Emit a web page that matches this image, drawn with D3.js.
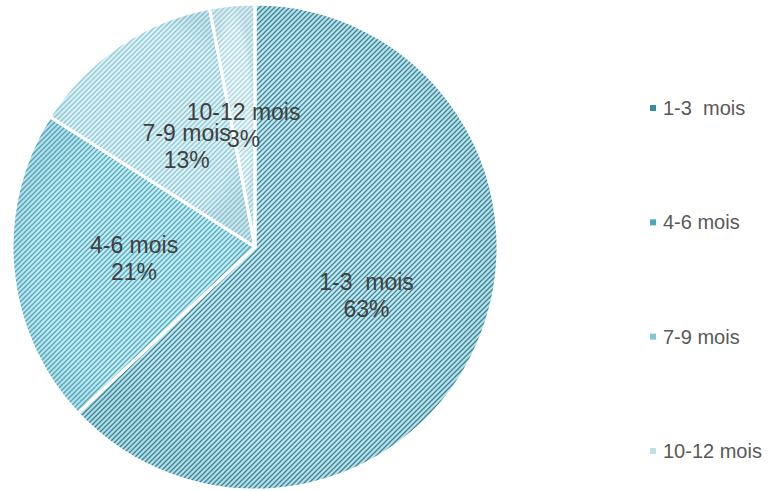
<!DOCTYPE html>
<html>
<head>
<meta charset="utf-8">
<script src="https://cdn.jsdelivr.net/npm/d3@7"></script>
<style>
  body { margin: 0; background: #fff; }
  svg { display: block; font-family: "Liberation Sans", Arial, sans-serif; }
</style>
</head>
<body>
<svg id="chart"></svg>
<script>
var width = 771,
    height = 491;

// data
var categories = ["1-3  mois", "4-6 mois", "7-9 mois", "10-12 mois"];
var values = [63, 21, 13, 3];

// pattern colours (background, stripe) and legend swatches
var bgColors = ["#c9e6ee", "#cbe9f1", "#e0f1f6", "#ebf6f9"];
var stripeColors = ["#358b9d", "#4aaec3", "#8ccad9", "#acd7e2"];
var swatch = ["#3a8c9d", "#4aa9bd", "#82c6d6", "#bfe0e9"];

var cx = 255, cy = 247, r = 243;

var svg = d3.select("#chart").attr("width", width).attr("height", height);
var defs = svg.append("defs");

categories.forEach(function(c, i) {
  var p = defs.append("pattern")
    .attr("id", "hatch" + i)
    .attr("patternUnits", "userSpaceOnUse")
    .attr("width", 5)
    .attr("height", 5);
  p.append("rect").attr("width", 5).attr("height", 5).attr("fill", bgColors[i]);
  p.append("path")
    .attr("d", "M-1,1 l2,-2 M0,5 l5,-5 M4,6 l2,-2")
    .attr("stroke", stripeColors[i])
    .attr("stroke-width", 1.3);
});

var shade = defs.append("radialGradient").attr("id", "shade");
shade.append("stop").attr("offset", "0.8").attr("stop-color", "#1a6f80").attr("stop-opacity", 0);
shade.append("stop").attr("offset", "1").attr("stop-color", "#1a6f80").attr("stop-opacity", 0.1);

var pie = d3.pie().sort(null).value(function(d) { return d; });
var arcs = pie(values);
var arc = d3.arc().innerRadius(0).outerRadius(r);

var g = svg.append("g").attr("transform", "translate(" + cx + "," + cy + ")");

g.selectAll("path.slice")
  .data(arcs)
  .enter().append("path")
  .attr("class", "slice")
  .attr("d", arc)
  .attr("fill", function(d, i) { return "url(#hatch" + i + ")"; });

g.selectAll("path.shade")
  .data(arcs)
  .enter().append("path")
  .attr("class", "shade")
  .attr("d", arc)
  .attr("fill", "url(#shade)");

g.selectAll("path.edge")
  .data(arcs)
  .enter().append("path")
  .attr("class", "edge")
  .attr("d", arc)
  .attr("fill", "none")
  .attr("stroke", "#fff")
  .attr("stroke-width", 3)
  .attr("stroke-linejoin", "round");

// labels sit at half the radius
var total = d3.sum(values);
var labels = g.selectAll("text.lbl")
  .data(arcs)
  .enter().append("text")
  .attr("class", "lbl")
  .attr("text-anchor", "middle")
  .attr("fill", "#404040")
  .style("font-size", "23px")
  .style("white-space", "pre")
  .attr("transform", function(d) {
    var a = (d.startAngle + d.endAngle) / 2;
    var rr = r * 0.5;
    return "translate(" + (Math.sin(a) * rr) + "," + (-Math.cos(a) * rr) + ")";
  });
labels.append("tspan")
  .attr("x", 0).attr("dy", "-0.25em")
  .text(function(d, i) { return categories[i]; });
labels.append("tspan")
  .attr("x", 0).attr("dy", "1.18em")
  .text(function(d) { return Math.round(d.value / total * 100) + "%"; });

// legend
var legendY = d3.scalePoint().domain(categories).range([108, 451]);
var legend = svg.append("g").selectAll("g")
  .data(categories)
  .enter().append("g")
  .attr("transform", function(d) { return "translate(650," + legendY(d) + ")"; });
legend.append("rect")
  .attr("x", 0).attr("y", -3)
  .attr("width", 6).attr("height", 6)
  .attr("fill", function(d, i) { return swatch[i]; });
legend.append("text")
  .attr("x", 13).attr("y", 7)
  .attr("fill", "#595959")
  .style("font-size", "20px")
  .style("white-space", "pre")
  .text(function(d) { return d; });
</script>
</body>
</html>
